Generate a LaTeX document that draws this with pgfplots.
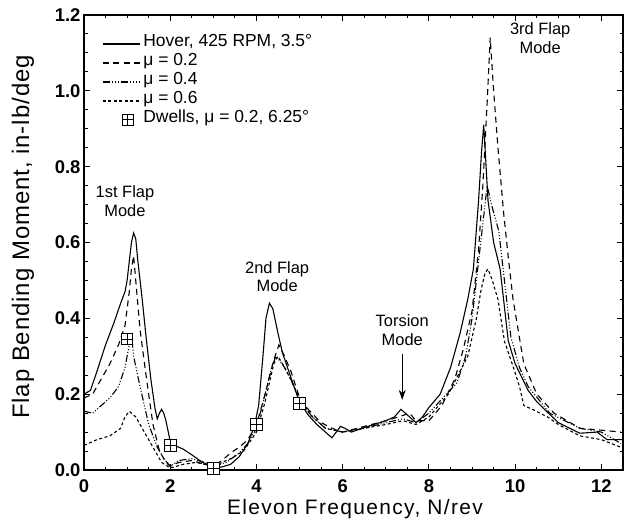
\documentclass[border=0pt]{standalone}
\usepackage{fontspec}
\setmainfont{Liberation Sans}
\newfontfamily\xlabfont{Liberation Sans}[LetterSpace=6.5]
\newfontfamily\ylabfont{Liberation Sans}[LetterSpace=4]
\usepackage{pgfplots}
\pgfplotsset{compat=1.18}
\usetikzlibrary{arrows.meta}

% square with a plus inside
\pgfdeclareplotmark{boxplus}{%
  \pgfpathrectangle{\pgfqpoint{-\pgfplotmarksize}{-\pgfplotmarksize}}{\pgfqpoint{2\pgfplotmarksize}{2\pgfplotmarksize}}%
  \pgfusepathqfillstroke
  \pgfpathmoveto{\pgfqpoint{-\pgfplotmarksize}{0pt}}\pgfpathlineto{\pgfqpoint{\pgfplotmarksize}{0pt}}%
  \pgfpathmoveto{\pgfqpoint{0pt}{-\pgfplotmarksize}}\pgfpathlineto{\pgfqpoint{0pt}{\pgfplotmarksize}}%
  \pgfusepathqstroke}
\pgfplotsset{
  linelegend/.style={legend image code/.code={\draw[##1] (0bp,0bp) -- (37bp,0bp);}},
  marklegend/.style={legend image code/.code={\draw[##1] plot coordinates {(25bp,0bp)};}},
}

\begin{document}
\begin{tikzpicture}
\useasboundingbox (-84bp,-58bp) rectangle (548bp,470bp);
\begin{axis}[
  at={(0,0)}, anchor=south west,
  scale only axis, width=539bp, height=455bp,
  xmin=0, xmax=12.5, ymin=0, ymax=1.2,
  xtick={0,2,4,6,8,10,12},
  ytick={0,0.2,0.4,0.6,0.8,1.0,1.2},
  minor x tick num=3, minor y tick num=3,
  tick align=inside,
  major tick length=6bp, minor tick length=3.5bp,
  every tick/.style={black, line width=1bp},
  axis line style={line width=1.3bp},
  tick label style={font=\fontsize{18.5}{21}\selectfont\bfseries},
  /pgf/number format/assume math mode=true,
  xticklabel style={yshift=-6bp},
  yticklabel style={/pgf/number format/.cd, fixed, fixed zerofill, precision=1},
  legend style={at={(0.028,0.962)}, anchor=north west, draw=none, fill=none,
    font=\fontsize{17.5}{19}\selectfont,
    nodes={inner sep=0pt, text height=12bp, text depth=7bp},
    /tikz/every odd column/.append style={column sep=3bp}},
  legend cell align=left,
  linelegend,
]
\addplot[black, line width=1.1bp] coordinates {
(0,0.20) (0.15,0.21) (0.3,0.26) (0.5,0.33) (0.7,0.39) (0.85,0.44) (0.95,0.47)
(1.0,0.50) (1.05,0.55) (1.1,0.60) (1.15,0.625) (1.2,0.61) (1.25,0.55) (1.35,0.45)
(1.45,0.34) (1.55,0.24) (1.65,0.16) (1.7,0.135) (1.75,0.15) (1.8,0.16) (1.85,0.15)
(1.9,0.13) (2.0,0.075) (2.1,0.065) (2.3,0.055) (2.5,0.04) (2.75,0.02) (3.0,0.008)
(3.2,0.008) (3.4,0.015) (3.6,0.035) (3.8,0.07) (3.95,0.115) (4.05,0.17) (4.15,0.3)
(4.22,0.4) (4.3,0.44) (4.38,0.425) (4.5,0.36) (4.6,0.31) (4.75,0.26) (4.9,0.21)
(5.0,0.18) (5.2,0.145) (5.4,0.12) (5.6,0.10) (5.75,0.085) (5.85,0.1) (5.95,0.115)
(6.05,0.11) (6.2,0.1) (6.5,0.112) (7.0,0.13) (7.2,0.14) (7.35,0.16) (7.5,0.145)
(7.7,0.125) (7.85,0.14) (8.0,0.165) (8.26,0.2) (8.5,0.27) (8.72,0.36) (8.9,0.45)
(9.03,0.53) (9.15,0.71) (9.22,0.84) (9.27,0.91) (9.32,0.81) (9.37,0.71) (9.5,0.6)
(9.65,0.53) (9.75,0.43) (9.84,0.34) (10.0,0.28) (10.3,0.21) (10.5,0.18) (10.77,0.15)
(11.0,0.125) (11.5,0.097) (11.9,0.1) (12.13,0.08) (12.5,0.08)
};
\addlegendentry{Hover, 425 RPM, 3.5°}
\addplot[black, line width=1.1bp, dash pattern=on 6bp off 4.5bp] coordinates {
(0,0.19) (0.2,0.2) (0.4,0.24) (0.6,0.28) (0.8,0.33) (0.95,0.38) (1.05,0.47) (1.1,0.53)
(1.15,0.565) (1.2,0.5) (1.3,0.37) (1.45,0.24) (1.6,0.12) (1.75,0.05) (1.9,0.02)
(2.0,0.01) (2.2,0.02) (2.5,0.025) (2.8,0.015) (3.0,0.01) (3.2,0.025) (3.4,0.045)
(3.6,0.06) (3.8,0.08) (4.0,0.12) (4.2,0.2) (4.4,0.29) (4.52,0.33) (4.65,0.3) (4.8,0.26)
(5.0,0.19) (5.2,0.16) (5.5,0.125) (5.75,0.11) (6.0,0.1) (6.5,0.115) (7.0,0.13)
(7.3,0.14) (7.55,0.15) (7.7,0.13) (8.0,0.13) (8.3,0.17) (8.6,0.24) (8.8,0.32)
(9.0,0.42) (9.15,0.58) (9.25,0.75) (9.35,0.97) (9.42,1.14) (9.5,1.0) (9.6,0.85)
(9.73,0.68) (9.85,0.55) (9.95,0.45) (10.2,0.28) (10.5,0.2) (10.9,0.15) (11.2,0.13)
(11.5,0.11) (12.0,0.105) (12.45,0.1)
};
\addlegendentry{μ = 0.2}
\addplot[black, line width=1.1bp, dash pattern=on 7bp off 2bp on 1bp off 2bp on 1bp off 2bp on 1bp off 2bp] coordinates {
(0,0.155) (0.2,0.15) (0.4,0.17) (0.6,0.19) (0.8,0.22) (0.95,0.27) (1.05,0.33) (1.1,0.36)
(1.15,0.3) (1.3,0.22) (1.5,0.12) (1.7,0.06) (1.85,0.03) (2.0,0.01) (2.2,0.025)
(2.5,0.03) (2.8,0.02) (3.0,0.01) (3.3,0.02) (3.6,0.045) (3.8,0.07) (4.0,0.11) (4.2,0.2)
(4.35,0.27) (4.45,0.3) (4.6,0.28) (4.8,0.24) (5.0,0.18) (5.3,0.14) (5.6,0.11) (6.0,0.1)
(6.5,0.11) (7.0,0.125) (7.4,0.135) (7.7,0.125) (8.0,0.15) (8.4,0.2) (8.65,0.23)
(8.85,0.3) (9.0,0.4) (9.1,0.5) (9.25,0.65) (9.35,0.75) (9.45,0.7) (9.62,0.63) (9.75,0.5)
(9.9,0.35) (10.1,0.27) (10.3,0.22) (10.8,0.15) (11.5,0.11) (12.0,0.1) (12.45,0.07)
};
\addlegendentry{μ = 0.4}
\addplot[black, line width=1.1bp, dash pattern=on 3bp off 2.5bp] coordinates {
(0,0.065) (0.3,0.08) (0.6,0.09) (0.85,0.11) (0.95,0.14) (1.05,0.155) (1.2,0.14)
(1.35,0.11) (1.5,0.08) (1.65,0.05) (1.8,0.02) (2.0,0.005) (2.3,0.015) (2.6,0.02)
(3.0,0.01) (3.4,0.03) (3.7,0.05) (4.0,0.1) (4.2,0.18) (4.4,0.28) (4.5,0.3) (4.7,0.26)
(5.0,0.19) (5.3,0.14) (5.6,0.11) (6.0,0.1) (6.5,0.11) (7.0,0.12) (7.4,0.13) (7.7,0.12)
(8.0,0.14) (8.45,0.2) (8.9,0.3) (9.1,0.4) (9.2,0.47) (9.3,0.52) (9.37,0.53) (9.47,0.5)
(9.6,0.45) (9.75,0.34) (9.96,0.27) (10.1,0.22) (10.2,0.17) (10.4,0.16) (10.75,0.14)
(11.0,0.12) (11.5,0.09) (12.0,0.08) (12.45,0.06)
};
\addlegendentry{μ = 0.6}
\addplot[only marks, mark=boxplus, mark size=5.8bp,
  mark options={black, fill=white, line width=1bp}, marklegend] coordinates {
(1,0.345) (2,0.065) (3,0.004) (4,0.12) (5,0.175)
};
\addlegendentry{Dwells, μ = 0.2, 6.25°}

\node[align=center, font=\fontsize{16.5}{19}\selectfont] at (axis cs:0.95,0.71) {1st Flap\\Mode};
\node[align=center, font=\fontsize{16.5}{19}\selectfont] at (axis cs:4.48,0.51) {2nd Flap\\Mode};
\node[align=center, font=\fontsize{16.5}{19}\selectfont] at (axis cs:7.38,0.368) {Torsion\\Mode};
\node[align=center, font=\fontsize{16.5}{19}\selectfont] at (axis cs:10.58,1.14) {3rd Flap\\Mode};
\draw[-{Stealth[length=10bp,width=7bp]}, line width=1.1bp] (axis cs:7.38,0.305) -- (axis cs:7.38,0.185);
\end{axis}
\node[font=\fontsize{21}{24}\selectfont\xlabfont] at (271bp,-39bp) {Elevon Frequency, N/rev};
\node[rotate=90, font=\fontsize{24}{28}\selectfont\ylabfont] at (-61bp,233bp) {Flap Bending Moment, in-lb/deg};
\end{tikzpicture}
\end{document}
